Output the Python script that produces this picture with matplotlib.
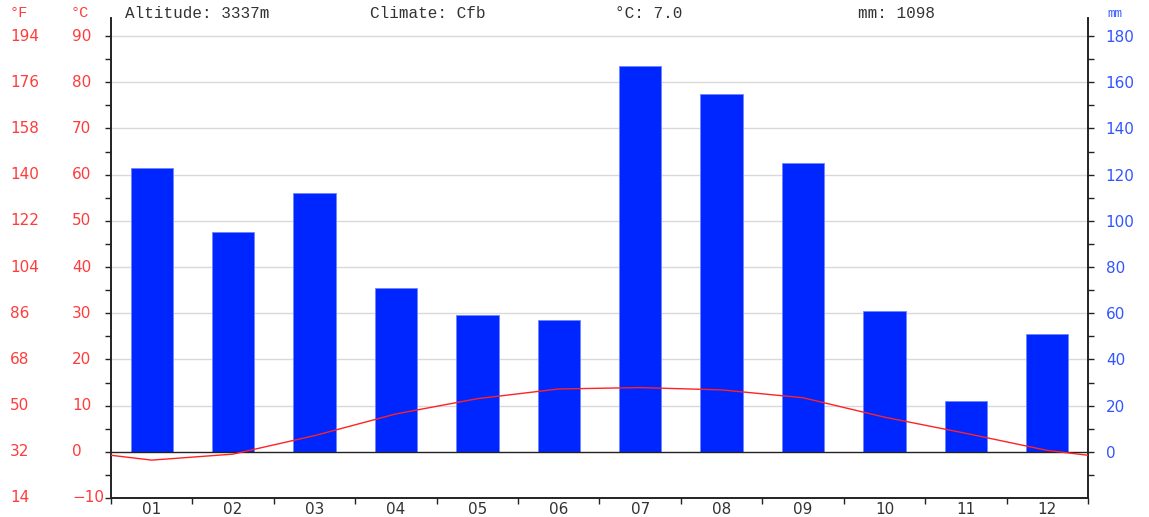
import matplotlib
matplotlib.use("Agg")
import matplotlib.pyplot as plt
import numpy as np
from matplotlib.ticker import MultipleLocator, FixedLocator

months = ["01", "02", "03", "04", "05", "06", "07", "08", "09", "10", "11", "12"]
precip_mm = [122.9, 95.2, 112.1, 71.0, 59.3, 57.1, 167.0, 154.9, 125.1, 61.0, 22.1, 51.1]
temp_c = [-1.8, -0.5, 3.5, 8.2, 11.5, 13.6, 13.9, 13.4, 11.7, 7.5, 4.0, 0.3]
c_ticks = [-10, 0, 10, 20, 30, 40, 50, 60, 70, 80, 90]
f_labels = ["14", "32", "50", "68", "86", "104", "122", "140", "158", "176", "194"]
mm_ticks = [0, 20, 40, 60, 80, 100, 120, 140, 160, 180]
header_texts = ["Altitude: 3337m", "Climate: Cfb", "°C: 7.0", "mm: 1098"]

RED = "#ff3b3b"
BLUE = "#3355ff"
BAR = "#0026ff"
GRID = "#d9d9d9"
TICK_FS = 11

fig = plt.figure(figsize=(11.49, 5.17), dpi=100)
ax = fig.add_axes([111/1149, 19/517, (1088-111)/1149, (498-18)/517])
ax2 = ax.twinx()

c_top = 93.9
ax.set_ylim(-10, c_top)
ax2.set_ylim(-20, 2*c_top)
ax.set_xlim(0.5, 12.5)

x = np.arange(1, 13)
ax.set_zorder(ax2.get_zorder() + 1)
ax.patch.set_visible(False)

for yv in c_ticks[2:]:
    ax2.axhline(yv * 2, color=GRID, lw=1, zorder=0)
ax2.bar(x, precip_mm, width=0.52, color=BAR, edgecolor="#6f86ff", linewidth=0.6, zorder=2)
ax2.axhline(0, color="#222222", lw=1, zorder=3)

# temperature line with wrap-around ends
edge = (temp_c[-1] + temp_c[0]) / 2
tx = np.concatenate([[0.5], x, [12.5]])
ty = np.concatenate([[edge], temp_c, [edge]])
ax.plot(tx, ty, color="#ff2222", lw=1.0, zorder=5)

for a in (ax, ax2):
    a.spines["top"].set_visible(False)
    for s in ("left", "right", "bottom"):
        a.spines[s].set_color("#222222")
        a.spines[s].set_linewidth(1.2)

TL = 4.3
# left axis ticks (labels drawn as text, left aligned)
ax.yaxis.set_major_locator(FixedLocator(c_ticks))
ax.yaxis.set_minor_locator(MultipleLocator(5))
ax.tick_params(axis="y", which="both", direction="out", length=TL, width=1, color="#222222",
               labelleft=False)
for cv in c_ticks:
    lab = str(cv).replace("-", "\u2212")
    ax.text((72-111)/977, cv, lab, transform=ax.get_yaxis_transform(), color=RED,
            fontsize=TICK_FS, ha="left", va="center")

# right axis ticks
ax2.yaxis.set_major_locator(FixedLocator(mm_ticks))
ax2.yaxis.set_minor_locator(FixedLocator(list(range(-10, 190, 20))))
ax2.tick_params(axis="y", which="both", direction="out", length=TL, width=1, color="#222222",
                labelcolor=BLUE, labelsize=TICK_FS, pad=8.5)

# x axis: boundary ticks, centered labels
ax.xaxis.set_major_locator(FixedLocator(np.arange(0.5, 13.0, 1.0)))
ax.xaxis.set_minor_locator(FixedLocator(x))
ax.tick_params(axis="x", which="major", length=TL, width=1, color="#222222", labelbottom=False)
ax.tick_params(axis="x", which="minor", length=0, labelsize=TICK_FS, labelcolor="#333333", pad=3)
ax.set_xticklabels(months, minor=True)
ax2.tick_params(axis="x", which="both", length=0, labelbottom=False)

# Fahrenheit labels
for cv, fl in zip(c_ticks, f_labels):
    ax.text((10-111)/977, cv, fl, transform=ax.get_yaxis_transform(), color=RED,
            fontsize=TICK_FS, ha="left", va="center")

# headers
fig.text(10/1149, 1 - 13/517, "°F", color=RED, fontsize=11, ha="left", va="center",
         family="Liberation Mono")
fig.text(71/1149, 1 - 13/517, "°C", color=RED, fontsize=11, ha="left", va="center",
         family="Liberation Mono")
fig.text(1107/1149, 1 - 14/517, "mm", color=BLUE, fontsize=9, ha="left", va="center",
         family="Liberation Mono")
for xpos, t in zip([125, 370, 615, 858], header_texts):
    fig.text(xpos/1149, 1 - 13/517, t, color="#333333", fontsize=11.5, ha="left", va="center",
             family="Liberation Mono")

fig.savefig("out.png", dpi=100)
